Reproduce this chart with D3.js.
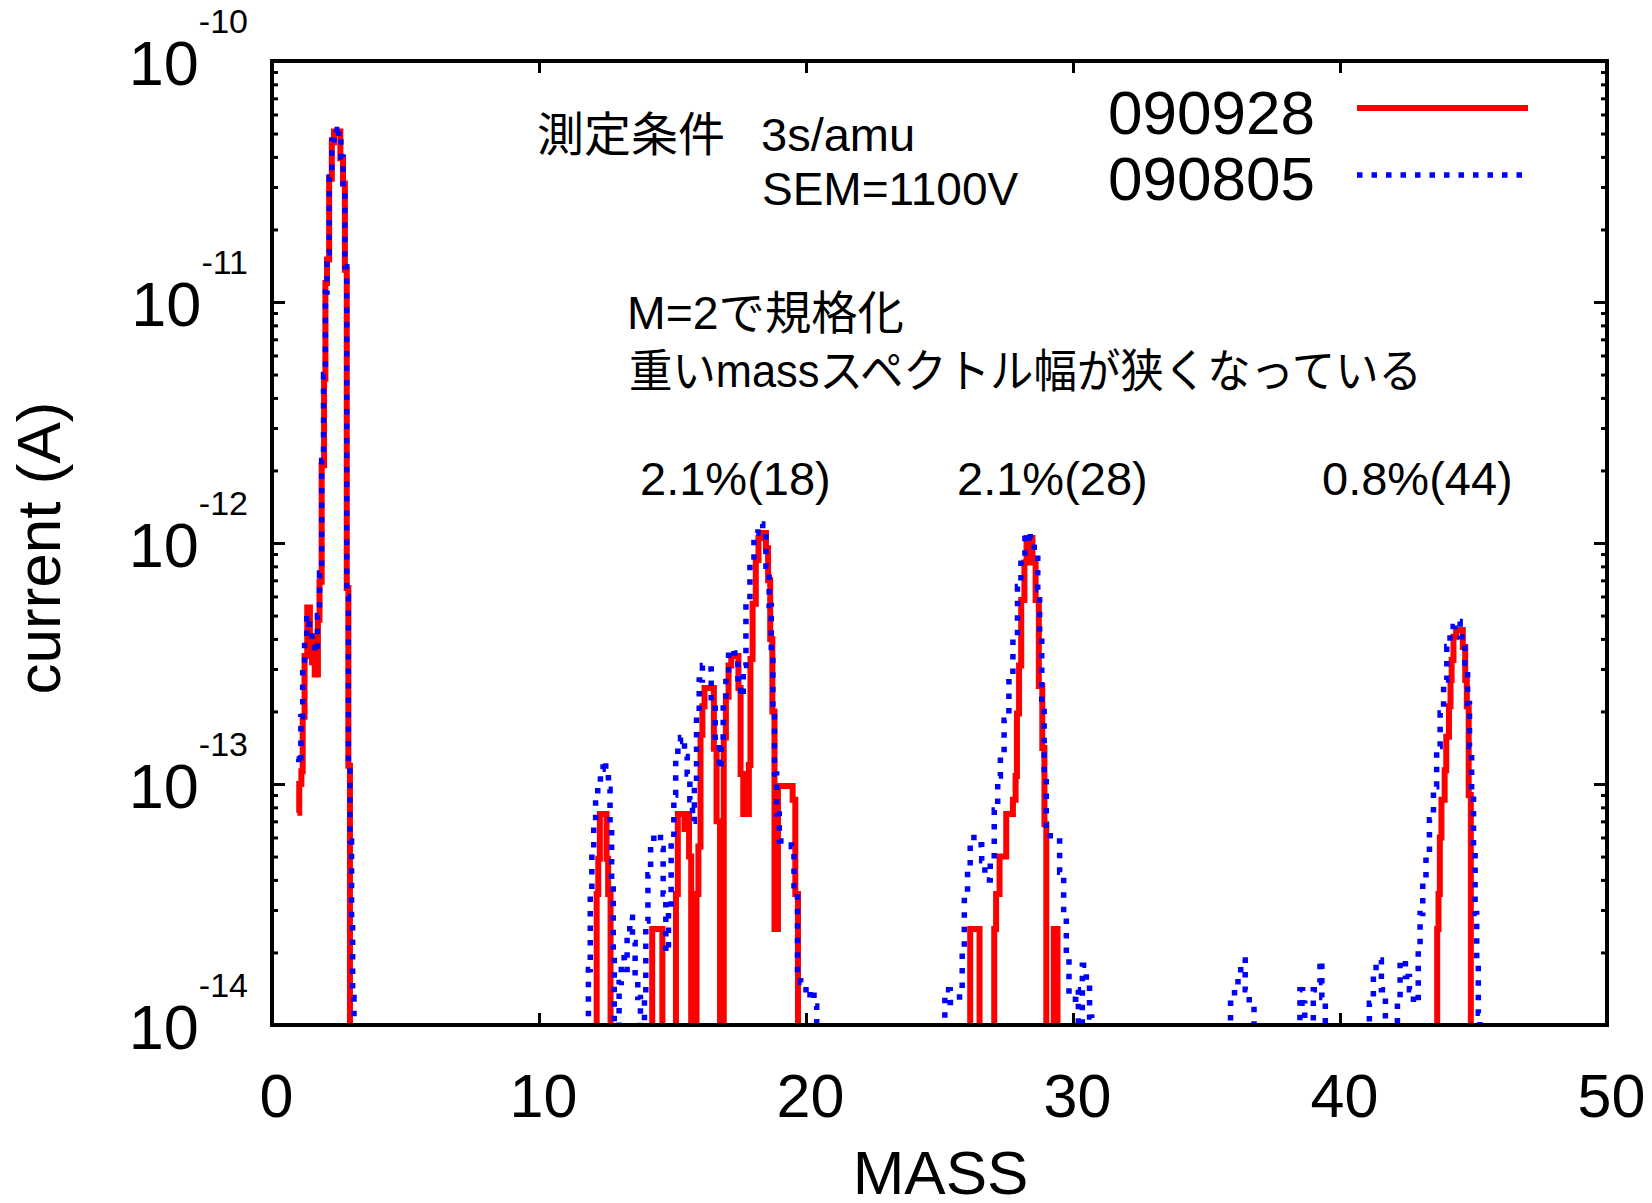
<!DOCTYPE html>
<html>
<head>
<meta charset="utf-8">
<script src="https://cdn.jsdelivr.net/npm/d3@7"></script>
<style>
  body { margin: 0; background: #fff; }
  text { font-family: "Liberation Sans", "Noto Sans CJK JP", sans-serif; fill: #000; }
</style>
</head>
<body>
<svg id="chart" width="1652" height="1203"></svg>
<script>
"use strict";

/**
 * Mass spectrum (log current vs MASS), two runs normalised at M=2.
 * Each point is [mass, current in A]; 0 means below the 1e-14 floor.
 */

var seriesNames = ["090928", "090805"]
var seriesColors = ["#ff0000", "#0000ff"]

// 090928 (red, solid)
var redLow = [
  [0.95, 7.6e-14], [1.02, 1.0e-13], [1.1, 1.13e-13], [1.15, 1.9e-13], [1.22, 3.4e-13],
  [1.32, 5.4e-13], [1.42, 4.0e-13], [1.5, 3.2e-13], [1.6, 2.85e-13], [1.72, 4.8e-13],
  [1.78, 6.9e-13], [1.86, 2.1e-12], [1.95, 4.8e-12], [2.0, 1.2e-11], [2.06, 1.5e-11],
  [2.14, 3.25e-11], [2.24, 4.6e-11], [2.32, 5.1e-11], [2.56, 3.95e-11], [2.66, 3.1e-11],
  [2.73, 1.36e-11], [2.8, 6.5e-13], [2.86, 1.19e-13], [2.92, 0]
]
var redMid = [
  [12.1, 0], [12.16, 3.5e-14], [12.22, 4.9e-14], [12.28, 7.5e-14], [12.53, 4.9e-14],
  [12.59, 3.5e-14], [12.68, 0],
  [14.24, 2.5e-14], [14.62, 0],
  [15.13, 3.5e-14], [15.2, 7.5e-14], [15.45, 6.5e-14], [15.55, 7.5e-14], [15.62, 5e-14], [15.7, 0],
  [15.9, 3.5e-14], [15.97, 5.5e-14], [16.05, 1.6e-13], [16.12, 2.1e-13], [16.2, 2.5e-13],
  [16.55, 1.4e-13], [16.65, 7e-14], [16.78, 0],
  [16.92, 1.56e-13], [17.0, 2.3e-13], [17.1, 3.1e-13], [17.2, 3.4e-13], [17.47, 2.5e-13],
  [17.55, 1.1e-13], [17.65, 7.5e-14], [17.86, 1.2e-13], [17.92, 3.3e-13], [18.0, 5.6e-13],
  [18.12, 8.5e-13], [18.22, 1.05e-12], [18.32, 1.1e-12], [18.5, 9.5e-13], [18.58, 7e-13],
  [18.66, 4e-13], [18.74, 2e-13], [18.82, 2.5e-14], [18.95, 9.8e-14], [19.5, 8.6e-14],
  [19.6, 3.5e-14], [19.7, 0]
]
var red28 = [
  [26.15, 2.5e-14], [26.5, 0], [27.05, 2.5e-14], [27.12, 3.5e-14], [27.25, 5e-14],
  [27.5, 7.5e-14], [27.75, 8.6e-14], [27.85, 1.08e-13], [27.9, 1.96e-13], [27.98, 3.1e-13],
  [28.06, 5.8e-13], [28.18, 8.3e-13], [28.26, 1.05e-12], [28.48, 8.3e-13], [28.6, 5.8e-13],
  [28.72, 2.55e-13], [28.85, 1.41e-13], [28.93, 6.8e-14], [29.0, 0], [29.28, 2.5e-14], [29.42, 0]
]
var red44 = [
  [43.64, 2.5e-14], [43.69, 3.5e-14], [43.74, 6.0e-14], [43.8, 8.6e-14], [43.92, 1.14e-13],
  [43.98, 1.57e-13], [44.08, 2.1e-13], [44.14, 2.7e-13], [44.18, 3.27e-13], [44.25, 4.08e-13],
  [44.35, 4.35e-13], [44.6, 3.7e-13], [44.69, 2.7e-13], [44.75, 2.1e-13], [44.82, 9e-14], [44.9, 0]
]

// 090805 (blue, dotted)
var blueLow = [
  [0.92, 1.27e-13], [1.0, 1.2e-13], [1.08, 1.9e-13], [1.15, 3.0e-13], [1.22, 4.0e-13],
  [1.3, 5.0e-13], [1.4, 4.4e-13], [1.5, 3.8e-13], [1.6, 3.5e-13], [1.7, 5.0e-13],
  [1.78, 7.5e-13], [1.86, 2.2e-12], [1.93, 5.0e-12], [2.0, 1.1e-11], [2.06, 1.6e-11],
  [2.14, 3.3e-11], [2.24, 4.7e-11], [2.32, 5.2e-11], [2.42, 4.8e-11], [2.5, 5.1e-11],
  [2.58, 4.0e-11], [2.66, 3.0e-11], [2.73, 1.4e-11], [2.8, 6.0e-13], [2.86, 1.2e-13],
  [2.92, 5.8e-14], [2.98, 2.8e-14], [3.02, 1.3e-14], [3.07, 0]
]
var blueMid = [
  [11.85, 1.7e-14], [11.92, 3.5e-14], [11.98, 5.2e-14], [12.05, 6.8e-14], [12.12, 8.6e-14],
  [12.2, 1.0e-13], [12.3, 1.15e-13], [12.4, 1.25e-13], [12.5, 1.1e-13], [12.6, 9.5e-14],
  [12.66, 6.5e-14], [12.72, 4e-14], [12.78, 2e-14], [12.82, 0],
  [13.0, 1.5e-14], [13.08, 1.9e-14], [13.2, 1.7e-14], [13.3, 2.4e-14], [13.4, 2.8e-14],
  [13.5, 2.2e-14], [13.6, 1.6e-14], [13.7, 1.3e-14], [13.8, 0],
  [13.95, 1.3e-14], [14.0, 2.7e-14], [14.08, 4.2e-14], [14.18, 5.5e-14], [14.3, 6.2e-14],
  [14.55, 5.4e-14], [14.65, 3.5e-14], [14.75, 2.0e-14], [14.85, 3.0e-14], [14.95, 6.0e-14],
  [15.05, 9e-14], [15.12, 1.3e-13], [15.2, 1.5e-13], [15.3, 1.56e-13], [15.45, 1.3e-13],
  [15.55, 1.1e-13], [15.65, 8.6e-14], [15.75, 7e-14], [15.82, 1.0e-13], [15.9, 2.0e-13],
  [16.0, 2.7e-13], [16.12, 3.1e-13], [16.3, 3.0e-13], [16.45, 2.2e-13], [16.6, 1.5e-13],
  [16.75, 1.15e-13], [16.82, 1.5e-13], [16.9, 2.2e-13], [17.0, 2.9e-13], [17.1, 3.6e-13],
  [17.3, 3.5e-13], [17.45, 2.6e-13], [17.55, 2.3e-13], [17.65, 3.1e-13], [17.75, 5.6e-13],
  [17.9, 8.5e-13], [18.05, 1.1e-12], [18.2, 1.2e-12], [18.38, 1.1e-12], [18.5, 8e-13],
  [18.62, 5.5e-13], [18.7, 3.4e-13], [18.76, 2e-13], [18.82, 1.1e-13], [18.9, 7.5e-14],
  [19.0, 5.8e-14], [19.45, 5.5e-14], [19.55, 3.5e-14], [19.68, 1.7e-14], [19.8, 1.5e-14],
  [20.0, 1.3e-14], [20.15, 1.4e-14], [20.3, 1.2e-14], [20.4, 0]
]
var blue28 = [
  [25.2, 1.4e-14], [25.4, 1.24e-14], [25.75, 1.4e-14], [25.85, 2.1e-14], [25.93, 3.4e-14],
  [26.05, 4.5e-14], [26.15, 6.0e-14], [26.45, 5.6e-14], [26.58, 4.8e-14], [26.7, 4.0e-14],
  [26.9, 4.9e-14], [27.05, 7.8e-14], [27.18, 1.08e-13], [27.28, 1.32e-13], [27.42, 1.84e-13],
  [27.6, 2.73e-13], [27.75, 4.05e-13], [27.92, 6.6e-13], [28.05, 8.6e-13], [28.2, 1.1e-12],
  [28.4, 1.05e-12], [28.55, 8.9e-13], [28.68, 6.4e-13], [28.75, 4.05e-13], [28.83, 2.1e-13],
  [28.92, 1.08e-13], [29.0, 6.4e-14], [29.15, 5.8e-14], [29.5, 4.3e-14], [29.65, 2.9e-14],
  [29.75, 1.9e-14], [29.85, 1.28e-14], [30.1, 1.4e-14], [30.2, 0], [30.35, 1.77e-14],
  [30.5, 1.5e-14], [30.62, 1.08e-14], [30.7, 0]
]
var blueTail = [
  [35.9, 1.23e-14], [36.05, 1.4e-14], [36.18, 1.59e-14], [36.28, 1.86e-14], [36.45, 1.4e-14],
  [36.6, 1.23e-14], [36.78, 0],
  [38.5, 1.4e-14], [38.6, 1.23e-14], [38.68, 0], [39.0, 1.4e-14], [39.15, 1.5e-14],
  [39.25, 1.86e-14], [39.32, 1.3e-14], [39.45, 0],
  [41.1, 1.23e-14], [41.25, 1.59e-14], [41.35, 1.86e-14], [41.55, 1.4e-14], [41.7, 0],
  [42.15, 1.3e-14], [42.25, 1.86e-14], [42.45, 1.59e-14], [42.6, 1.4e-14], [42.75, 1.23e-14]
]
var blue44 = [
  [42.93, 2.1e-14], [43.0, 2.9e-14], [43.1, 4.0e-14], [43.22, 5.2e-14], [43.35, 7.1e-14],
  [43.5, 9.75e-14], [43.62, 1.43e-13], [43.75, 1.97e-13], [43.88, 2.7e-13], [44.0, 3.72e-13],
  [44.12, 4.5e-13], [44.3, 4.72e-13], [44.5, 4.08e-13], [44.68, 3.17e-13], [44.78, 2.16e-13],
  [44.85, 1.43e-13], [44.93, 8.9e-14], [45.0, 5.5e-14], [45.06, 2.9e-14], [45.12, 1.8e-14],
  [45.18, 1.12e-14], [45.24, 0]
]

var xTicks = [0, 10, 20, 30, 40, 50]
var yDecades = [1e-14, 1e-13, 1e-12, 1e-11, 1e-10]

var notes = [
  { text: "測定条件", x: 537, y: 151, size: 47, len: 188 },
  { text: "3s/amu", x: 761, y: 151, size: 47 },
  { text: "SEM=1100V", x: 762, y: 205, size: 46 },
  { text: "M=2で規格化", x: 627, y: 329, size: 46, len: 277 },
  { text: "重いmassスペクトル幅が狭くなっている", x: 629, y: 387, size: 46, len: 793 },
  { text: "2.1%(18)", x: 640, y: 495, size: 47 },
  { text: "2.1%(28)", x: 957, y: 495, size: 47 },
  { text: "0.8%(44)", x: 1322, y: 495, size: 47 }
]

var FLOOR = 1e-15   // below the axis, drawn and then clipped away
var box = { left: 272, right: 1607, top: 61, bottom: 1025 }

var svg = d3.select("#chart")

var x = d3.scaleLinear().domain([0, 50]).range([box.left, box.right])
var y = d3.scaleLog().domain([1e-14, 1e-10]).range([box.bottom, box.top])

svg.append("defs").append("clipPath")
  .attr("id", "plotClip")
  .append("rect")
    .attr("x", box.left).attr("y", box.top)
    .attr("width", box.right - box.left).attr("height", box.bottom - box.top)

var line = d3.line()
  .x(function(d) { return x(d[0]) })
  .y(function(d) { return y(d[1] > 0 ? d[1] : FLOOR) })
  .curve(d3.curveStepAfter)

var series = [
  redLow.concat(redMid, red28, red44),
  blueLow.concat(blueMid, blue28, blueTail, blue44)
]

var plot = svg.append("g").attr("clip-path", "url(#plotClip)")

plot.append("path")
  .datum(series[0])
  .attr("d", line)
  .attr("fill", "none")
  .attr("stroke", seriesColors[0])
  .attr("stroke-width", 6)

plot.append("path")
  .datum(series[1])
  .attr("d", line)
  .attr("fill", "none")
  .attr("stroke", seriesColors[1])
  .attr("stroke-width", 5.5)
  .attr("stroke-dasharray", "5.5,9")

// minor ticks between decades
var yMinor = []
yDecades.slice(0, -1).forEach(function(k) {
  for (var m = 2; m < 10; m++) yMinor.push(m * k)
})

function styleAxis(g) {
  g.attr("font-size", null).attr("font-family", null)
  g.select(".domain").remove()
  g.selectAll("line").attr("stroke", "#000").attr("stroke-width", 3)
}

svg.append("g").attr("transform", "translate(" + box.left + ",0)")
  .call(d3.axisLeft(y).tickValues(yMinor).tickSizeInner(-6).tickSizeOuter(0).tickFormat(""))
  .call(styleAxis)
svg.append("g").attr("transform", "translate(" + box.right + ",0)")
  .call(d3.axisRight(y).tickValues(yMinor).tickSizeInner(-6).tickSizeOuter(0).tickFormat(""))
  .call(styleAxis)
svg.append("g").attr("transform", "translate(" + box.right + ",0)")
  .call(d3.axisRight(y).tickValues(yDecades).tickSizeInner(-13).tickSizeOuter(0).tickFormat(""))
  .call(styleAxis)
svg.append("g").attr("transform", "translate(0," + box.top + ")")
  .call(d3.axisTop(x).tickValues(xTicks).tickSizeInner(-12).tickSizeOuter(0).tickFormat(""))
  .call(styleAxis)

var yAxis = svg.append("g").attr("transform", "translate(" + box.left + ",0)")
  .call(d3.axisLeft(y).tickValues(yDecades).tickSizeInner(-13).tickSizeOuter(0)
    .tickPadding(24).tickFormat(""))
  .call(styleAxis)

yAxis.selectAll(".tick text")
  .attr("font-size", 63)
  .attr("dy", "0.38em")
  .each(function(d) {
    var t = d3.select(this)
    t.append("tspan").text("10")
    t.append("tspan")
      .attr("dy", -52)
      .attr("font-size", 34)
      .text(Math.round(Math.log10(d)))
  })

svg.append("g").attr("transform", "translate(0," + box.bottom + ")")
  .call(d3.axisBottom(x).tickValues(xTicks).tickSizeInner(-12).tickSizeOuter(0)
    .tickPadding(49).tickFormat(d3.format("d")))
  .call(styleAxis)
  .selectAll(".tick text")
    .attr("font-size", 61)
    .attr("dx", 4)

// frame
svg.append("rect")
  .attr("x", box.left).attr("y", box.top)
  .attr("width", box.right - box.left).attr("height", box.bottom - box.top)
  .attr("fill", "none")
  .attr("stroke", "#000")
  .attr("stroke-width", 4)

// axis titles
svg.append("text")
  .attr("x", (box.left + box.right) / 2 + 1).attr("y", 1194)
  .attr("text-anchor", "middle")
  .attr("font-size", 62)
  .text("MASS")

svg.append("text")
  .attr("transform", "translate(60,548) rotate(-90)")
  .attr("text-anchor", "middle")
  .attr("font-size", 62)
  .text("current (A)")

// legend
var legendRows = [
  { text: seriesNames[0], y: 134, lineY: 108, dash: null, width: 6 },
  { text: seriesNames[1], y: 200, lineY: 175, dash: "5.5,9", width: 5.5 }
]
legendRows.forEach(function(r, i) {
  svg.append("text")
    .attr("x", 1315).attr("y", r.y)
    .attr("text-anchor", "end")
    .attr("font-size", 62)
    .text(r.text)
  svg.append("line")
    .attr("x1", 1357).attr("x2", 1528)
    .attr("y1", r.lineY).attr("y2", r.lineY)
    .attr("stroke", seriesColors[i])
    .attr("stroke-width", r.width)
    .attr("stroke-dasharray", r.dash)
})

// annotations
notes.forEach(function(n) {
  var t = svg.append("text")
    .attr("x", n.x).attr("y", n.y)
    .attr("font-size", n.size)
    .text(n.text)
  if (n.len) t.attr("textLength", n.len).attr("lengthAdjust", "spacingAndGlyphs")
})
</script>
</body>
</html>
